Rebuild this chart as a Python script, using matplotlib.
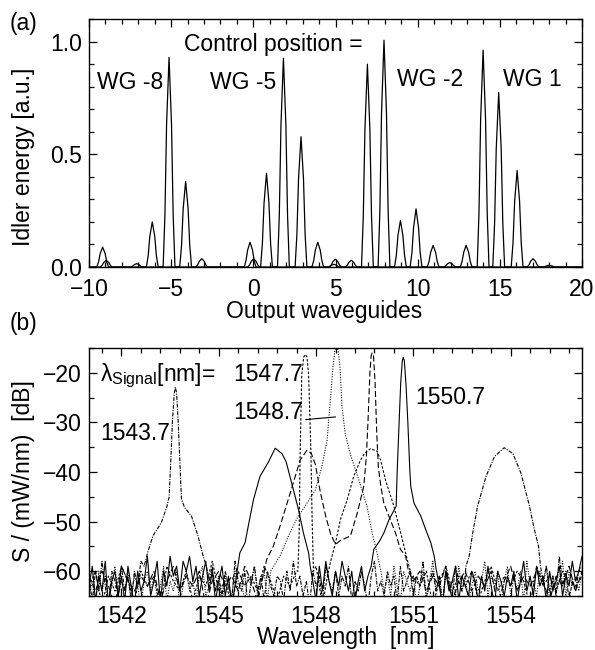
import numpy as np
import matplotlib.pyplot as plt
from matplotlib.ticker import MultipleLocator

plt.rcParams['font.family'] = ['Liberation Sans', 'DejaVu Sans']
plt.rcParams['mathtext.fontset'] = 'custom'
plt.rcParams['mathtext.rm'] = 'Liberation Sans'
plt.rcParams['mathtext.it'] = 'Liberation Sans:italic'

FS = 16.5

# ---------------- (a) idler energy on the output waveguides ----------------
wg_pos = [-9.17, -7.1, -6.15, -5.13, -4.12, -3.14, -0.2, 0.8, 1.83, 2.9, 3.92,
          4.99, 5.96, 6.94, 7.95, 8.95, 9.9, 10.94, 11.95, 12.95, 13.98, 14.93,
          16.05, 17.02, 18.0]
wg_energy = [0.088, 0.015, 0.20, 0.93, 0.38, 0.037, 0.11, 0.416, 0.926, 0.578, 0.11,
             0.035, 0.03, 0.90, 1.006, 0.206, 0.258, 0.096, 0.02, 0.096, 0.962, 0.774,
             0.428, 0.037, 0.008]
# second, weaker trace (small side spikes)
wg_pos2 = [-8.95, 0.02, 4.9]
wg_energy2 = [0.03, 0.037, 0.012]

wg_labels = ['WG -8', 'WG -5', 'WG -2', 'WG 1']
wg_label_x = [-9.51, -2.64, 8.75, 15.2]
wg_label_y = [0.79, 0.79, 0.803, 0.803]

# peak profile used to draw each spike
PEAK_DX = [-0.36, -0.25, -0.15, 0.0, 0.15, 0.25, 0.36]
PEAK_REL = [0.0, 0.25, 0.68, 1.0, 0.68, 0.25, 0.0]

# ---------------- (b) measured spectra ----------------
FLOOR_START = 1541.0

# dash-dot: signal 1543.7 nm
dd_sig_lam = [1542.70, 1542.81, 1542.97, 1543.23, 1543.40, 1543.47, 1543.52, 1543.57,
              1543.63, 1543.66, 1543.70, 1543.75, 1543.80, 1543.85, 1543.95, 1544.16,
              1544.36, 1544.52, 1544.62]
dd_sig_db = [-59.0, -56.2, -52.9, -50.2, -47.0, -45.0, -38.0, -30.0,
             -24.0, -22.9, -24.0, -30.0, -38.0, -45.5, -47.2, -48.9,
             -52.9, -57.0, -59.0]
dd_idl_lam = [1552.62, 1552.72, 1552.83, 1552.98, 1553.24, 1553.50, 1553.80, 1554.07,
              1554.32, 1554.58, 1554.73, 1554.86, 1554.92]
dd_idl_db = [-59.0, -57.0, -52.3, -46.9, -40.9, -36.9, -35.1, -36.3,
             -40.3, -46.9, -51.6, -55.0, -59.0]
# noise floor, one value every 0.1 nm from 1541.0 nm
dd_floor = [-61, -66, -60, -64, -58, -63, -67, -60, -62, -65,
            -59, -64, -61, -66, -60, -63, -58, -65, -62, -60,
            -66, -61, -64, -59, -63, -67, -61, -62, -65, -60,
            -63, -58, -65, -61, -64, -60, -66, -62, -59, -64,
            -61, -65, -60, -63, -66, -58, -62, -64, -60, -67,
            -62, -59, -64, -61, -66, -60, -63, -65, -61, -62,
            -66, -60, -64, -58, -63, -61, -65, -62, -67, -60,
            -63, -61, -66, -59, -62, -64, -60, -65, -61, -63,
            -59, -66, -62, -64, -60, -63, -67, -61, -58, -64,
            -62, -65, -60, -63, -61, -66, -59, -64, -62, -60,
            -65, -61, -63, -58, -66, -62, -60, -64, -61, -67,
            -60, -63, -65, -59, -62, -64, -61, -66, -60, -63,
            -58, -64, -61, -65, -62, -60, -66, -63, -59, -64,
            -61, -67, -60, -63, -58, -65, -62, -64, -60, -66,
            -62, -59, -64, -61, -65, -57, -63, -60, -66, -62,
            -64, -60, -59]

# solid: signal 1550.7 nm
so_idl_lam = [1545.58, 1545.65, 1545.81, 1545.91, 1546.07, 1546.27, 1546.53, 1546.74,
              1546.95, 1547.08, 1547.25, 1547.46, 1547.61, 1547.77, 1547.82]
so_idl_db = [-59.5, -56.3, -54.3, -50.9, -45.6, -40.9, -38.0, -35.2,
             -36.3, -38.0, -42.3, -47.6, -52.3, -56.3, -59.0]
so_sig_lam = [1549.70, 1549.78, 1549.95, 1550.09, 1550.25, 1550.47, 1550.50, 1550.56,
              1550.61, 1550.66, 1550.69, 1550.72, 1550.77, 1550.83, 1550.89, 1550.92,
              1551.02, 1551.23, 1551.38, 1551.54, 1551.64, 1551.70]
so_sig_db = [-59.0, -55.6, -54.0, -52.3, -49.6, -46.9, -40.0, -30.0,
             -22.0, -17.5, -16.9, -17.5, -22.0, -30.0, -39.6, -42.9,
             -46.3, -48.9, -51.6, -54.3, -56.9, -59.5]
so_floor = [-63, -59, -66, -61, -64, -58, -67, -62, -60, -65,
            -61, -66, -59, -63, -67, -60, -64, -62, -57, -65,
            -62, -58, -66, -60, -63, -57, -61, -59, -64, -58,
            -60, -57, -62, -59, -65, -61, -58, -64, -60, -66,
            -62, -59, -65, -61, -67, -63, -60, -64, -62, -66,
            -61, -65, -63, -60, -66, -62, -64, -61, -67, -63,
            -60, -64, -62, -66, -59, -63, -61, -65, -58, -62,
            -66, -59, -64, -58, -62, -65, -60, -63, -58, -61,
            -64, -60, -66, -62, -59, -64, -61, -67, -60, -63,
            -65, -61, -63, -60, -66, -62, -64, -59, -65, -61,
            -63, -66, -60, -64, -62, -58, -65, -61, -63, -67,
            -60, -64, -62, -59, -66, -61, -63, -65, -60, -62,
            -66, -61, -64, -59, -63, -67, -60, -62, -65, -61,
            -63, -60, -66, -62, -58, -64, -61, -65, -59, -63,
            -61, -66, -60, -64, -62, -59, -65, -61, -63, -58,
            -62, -60, -57]

# short dashes: signal 1547.7 nm
sd_sig_lam = [1547.44, 1547.48, 1547.51, 1547.56, 1547.62, 1547.67, 1547.72, 1547.77,
              1547.84, 1547.88, 1547.92]
sd_sig_db = [-60.0, -52.0, -36.0, -20.3, -16.8, -16.3, -16.8, -20.3,
             -35.6, -50.0, -60.0]
sd_idl_lam = [1548.35, 1548.45, 1548.60, 1548.75, 1548.96, 1549.16, 1549.37, 1549.50,
              1549.68, 1549.88, 1549.99, 1550.14, 1550.40, 1550.66, 1550.81, 1550.97]
sd_idl_db = [-61.0, -58.0, -54.3, -49.6, -45.6, -40.9, -37.6, -36.2,
             -35.3, -35.8, -37.6, -41.6, -46.9, -53.6, -57.6, -61.6]
# noise floor, one value every 0.2 nm from 1541.0 nm
sd_floor = [-63, -60, -67, -61, -64, -59, -62, -66, -60, -63, -61, -67, -59, -62, -64, -60, -66, -61, -63, -58,
            -64, -62, -67, -60, -63, -61, -64, -59, -62, -66, -61, -63, -60, -64, -62, -59, -67, -61, -63, -60,
            -62, -64, -59, -63, -61, -66, -60, -62, -58, -64, -61, -63, -60, -67, -62, -59, -64, -61, -63, -60,
            -66, -62, -59, -64, -61, -63, -60, -62, -67, -59, -63, -61, -64, -60, -62, -63, -61]

# long dashes: signal 1549.7 nm, idler 1547.7 nm
ld_lam = [1546.40, 1546.48, 1546.68, 1546.89, 1547.20, 1547.51, 1547.72, 1547.85,
          1547.98, 1548.13, 1548.30, 1548.45, 1548.60, 1548.75, 1549.06, 1549.27,
          1549.47, 1549.55, 1549.60, 1549.66, 1549.70, 1549.73, 1549.77, 1549.82,
          1549.87, 1549.92, 1550.00, 1550.09, 1550.45, 1550.60, 1550.76, 1550.85]
ld_db = [-60.0, -57.6, -55.0, -50.9, -44.3, -37.6, -35.6, -36.2,
         -38.5, -44.0, -49.0, -52.5, -54.6, -53.8, -52.9, -48.3,
         -42.9, -37.0, -30.0, -20.0, -16.5, -16.0, -16.5, -22.0,
         -32.0, -39.0, -43.0, -46.3, -52.3, -55.6, -56.9, -60.0]
ld_floor = [-61, -64, -60, -63, -67, -59, -62, -64, -61, -63, -60, -66, -62, -59, -64, -61, -63, -60, -67, -62,
            -60, -63, -61, -64, -59, -62, -66, -60, -63, -61, -64, -62, -59, -63, -60, -67, -61, -62, -64, -60,
            -63, -61, -66, -59, -62, -64, -60, -63, -61, -67, -62, -60, -64, -61, -63, -59, -66, -62, -60, -64,
            -61, -63, -60, -67, -62, -59, -64, -61, -63, -60, -62, -66, -61, -63, -59, -64, -60]

# dotted: signal 1548.7 nm
dt_lam = [1546.60, 1546.89, 1547.15, 1547.40, 1547.65, 1547.98, 1548.18, 1548.34,
          1548.44, 1548.52, 1548.58, 1548.63, 1548.68, 1548.74, 1548.80, 1548.90,
          1549.06, 1549.32, 1549.57, 1549.73, 1549.88, 1550.00]
dt_db = [-60.0, -56.9, -52.9, -49.5, -47.0, -43.6, -38.9, -33.6,
         -25.6, -19.0, -15.5, -14.5, -15.5, -19.0, -26.9, -32.3,
         -36.5, -41.6, -46.9, -52.3, -56.3, -60.0]
dt_floor = [-65, -62, -67, -60, -64, -61, -66, -63, -59, -65,
            -62, -64, -60, -66, -61, -63, -67, -62, -60, -64,
            -61, -65, -63, -59, -66, -62, -64, -60, -67, -63,
            -60, -64, -62, -66, -61, -59, -65, -63, -60, -64,
            -62, -67, -61, -63, -65, -60, -64, -62, -66, -61,
            -63, -59, -65, -62, -60, -66, -61, -64, -63, -67,
            -60, -62, -65, -61, -63, -59, -66, -62, -64, -60,
            -65, -61, -63, -67, -60, -62, -64, -58, -63, -61,
            -66, -60, -64, -62, -59, -65, -61, -63, -67, -60,
            -62, -64, -61, -65, -59, -63, -66, -60, -62, -64,
            -61, -67, -63, -60, -65, -62, -58, -64, -61, -66,
            -60, -63, -62, -65, -59, -64, -61, -66, -63, -60,
            -64, -62, -58, -65, -61, -63, -60, -67, -62, -59,
            -65, -61, -64, -60, -66, -58, -63, -62, -65, -60,
            -63, -59, -66, -61, -64, -62, -58, -65, -60, -63,
            -61, -64, -60]


def peak_trace(pos, heights):
    xs, ys = [-10.0], [0.0]
    for p, h in zip(pos, heights):
        xs += [p + d for d in PEAK_DX]
        ys += [h * r for r in PEAK_REL]
    xs.append(20.0)
    ys.append(0.0)
    return xs, ys


def build_trace(floor, step, segments):
    lam = FLOOR_START + step * np.arange(len(floor))
    keep = np.ones(len(lam), dtype=bool)
    for seg_l, seg_d in segments:
        keep &= ~((lam >= seg_l[0]) & (lam <= seg_l[-1]))
    x = np.concatenate([lam[keep]] + [np.asarray(s[0], float) for s in segments])
    y = np.concatenate([np.asarray(floor, float)[keep]] + [np.asarray(s[1], float) for s in segments])
    order = np.argsort(x)
    return x[order], y[order]


def style_axes(ax, xpad):
    for sp in ax.spines.values():
        sp.set_linewidth(1.0)
    ax.tick_params(which='both', direction='in', top=True, right=True,
                   labelsize=FS, width=0.9, pad=5)
    ax.tick_params(axis='x', which='both', pad=xpad)
    ax.tick_params(which='major', length=5.5)
    ax.tick_params(which='minor', length=3.5)


fig = plt.figure(figsize=(5.95, 6.5), dpi=100)
ax_a = fig.add_axes([0.1496, 0.5892, 0.8286, 0.3815])
ax_b = fig.add_axes([0.1496, 0.0831, 0.8286, 0.3815])

# ---- panel (a)
xa, ya = peak_trace(wg_pos, wg_energy)
ax_a.plot(xa, ya, color='black', lw=0.9)
xa2, ya2 = peak_trace(wg_pos2, wg_energy2)
ax_a.plot(xa2, ya2, color='black', lw=0.9)
ax_a.set_xlim(-10, 20)
ax_a.set_ylim(0, 1.1)
ax_a.xaxis.set_major_locator(MultipleLocator(5))
ax_a.xaxis.set_minor_locator(MultipleLocator(1))
ax_a.yaxis.set_major_locator(MultipleLocator(0.5))
ax_a.yaxis.set_minor_locator(MultipleLocator(0.1))
ax_a.yaxis.set_major_formatter(plt.FormatStrFormatter('%.1f'))
style_axes(ax_a, 8.0)
ax_a.text(-4.22, 0.958, 'Control position =', fontsize=FS, va='baseline')
for lab, lx, ly in zip(wg_labels, wg_label_x, wg_label_y):
    ax_a.text(lx, ly, lab, fontsize=FS, va='baseline')

# ---- panel (b)
traces = [
    (build_trace(dd_floor, 0.1, [(dd_sig_lam, dd_sig_db), (dd_idl_lam, dd_idl_db)]), (0, (3.5, 1.2, 1.0, 1.2))),
    (build_trace(so_floor, 0.1, [(so_idl_lam, so_idl_db), (so_sig_lam, so_sig_db)]), '-'),
    (build_trace(sd_floor, 0.2, [(sd_sig_lam, sd_sig_db), (sd_idl_lam, sd_idl_db)]), (0, (2.2, 1.6))),
    (build_trace(ld_floor, 0.2, [(ld_lam, ld_db)]), (0, (5.5, 2.5))),
    (build_trace(dt_floor, 0.1, [(dt_lam, dt_db)]), (0, (0.9, 1.4))),
]
for (x, y), ls in traces:
    ax_b.plot(x, y, color='black', lw=0.8, linestyle=ls)

ax_b.set_xlim(1541.0, 1556.2)
ax_b.set_ylim(-65, -15)
ax_b.set_xticks([1542, 1545, 1548, 1551, 1554])
ax_b.xaxis.set_minor_locator(MultipleLocator(0.6))
ax_b.yaxis.set_major_locator(MultipleLocator(10))
ax_b.yaxis.set_minor_locator(MultipleLocator(5))
style_axes(ax_b, 6.5)

ax_b.text(1541.35, -21.7, r'$\mathrm{\lambda}_{\mathrm{Signal}}$[nm]=', fontsize=FS, va='baseline')
ax_b.text(1545.44, -21.6, '1547.7', fontsize=FS, va='baseline')
ax_b.annotate('1548.7', xy=(1548.6, -28.9), xytext=(1545.44, -29.4),
              fontsize=FS, va='baseline',
              arrowprops=dict(arrowstyle='-', lw=0.8, color='black',
                              relpos=(1.0, 0.2), shrinkA=0, shrinkB=0))
ax_b.text(1541.35, -33.6, '1543.7', fontsize=FS, va='baseline')
ax_b.text(1551.07, -26.2, '1550.7', fontsize=FS, va='baseline')

# ---- figure labels
fig.text(0.0168, 0.9646, '(a)', fontsize=FS, va='center')
fig.text(0.0168, 0.503, '(b)', fontsize=FS, va='center')
fig.text(0.0403, 0.758, 'Idler energy [a.u.]', fontsize=FS, rotation=90, ha='center', va='center')
fig.text(0.5454, 0.5108, 'Output waveguides', fontsize=FS, ha='center', va='baseline')
fig.text(0.0403, 0.2754, 'S / (mW/nm)  [dB]', fontsize=FS, rotation=90, ha='center', va='center')
fig.text(0.5807, 0.0085, 'Wavelength  [nm]', fontsize=FS, ha='center', va='baseline')

fig.savefig('out.png', dpi=100)
